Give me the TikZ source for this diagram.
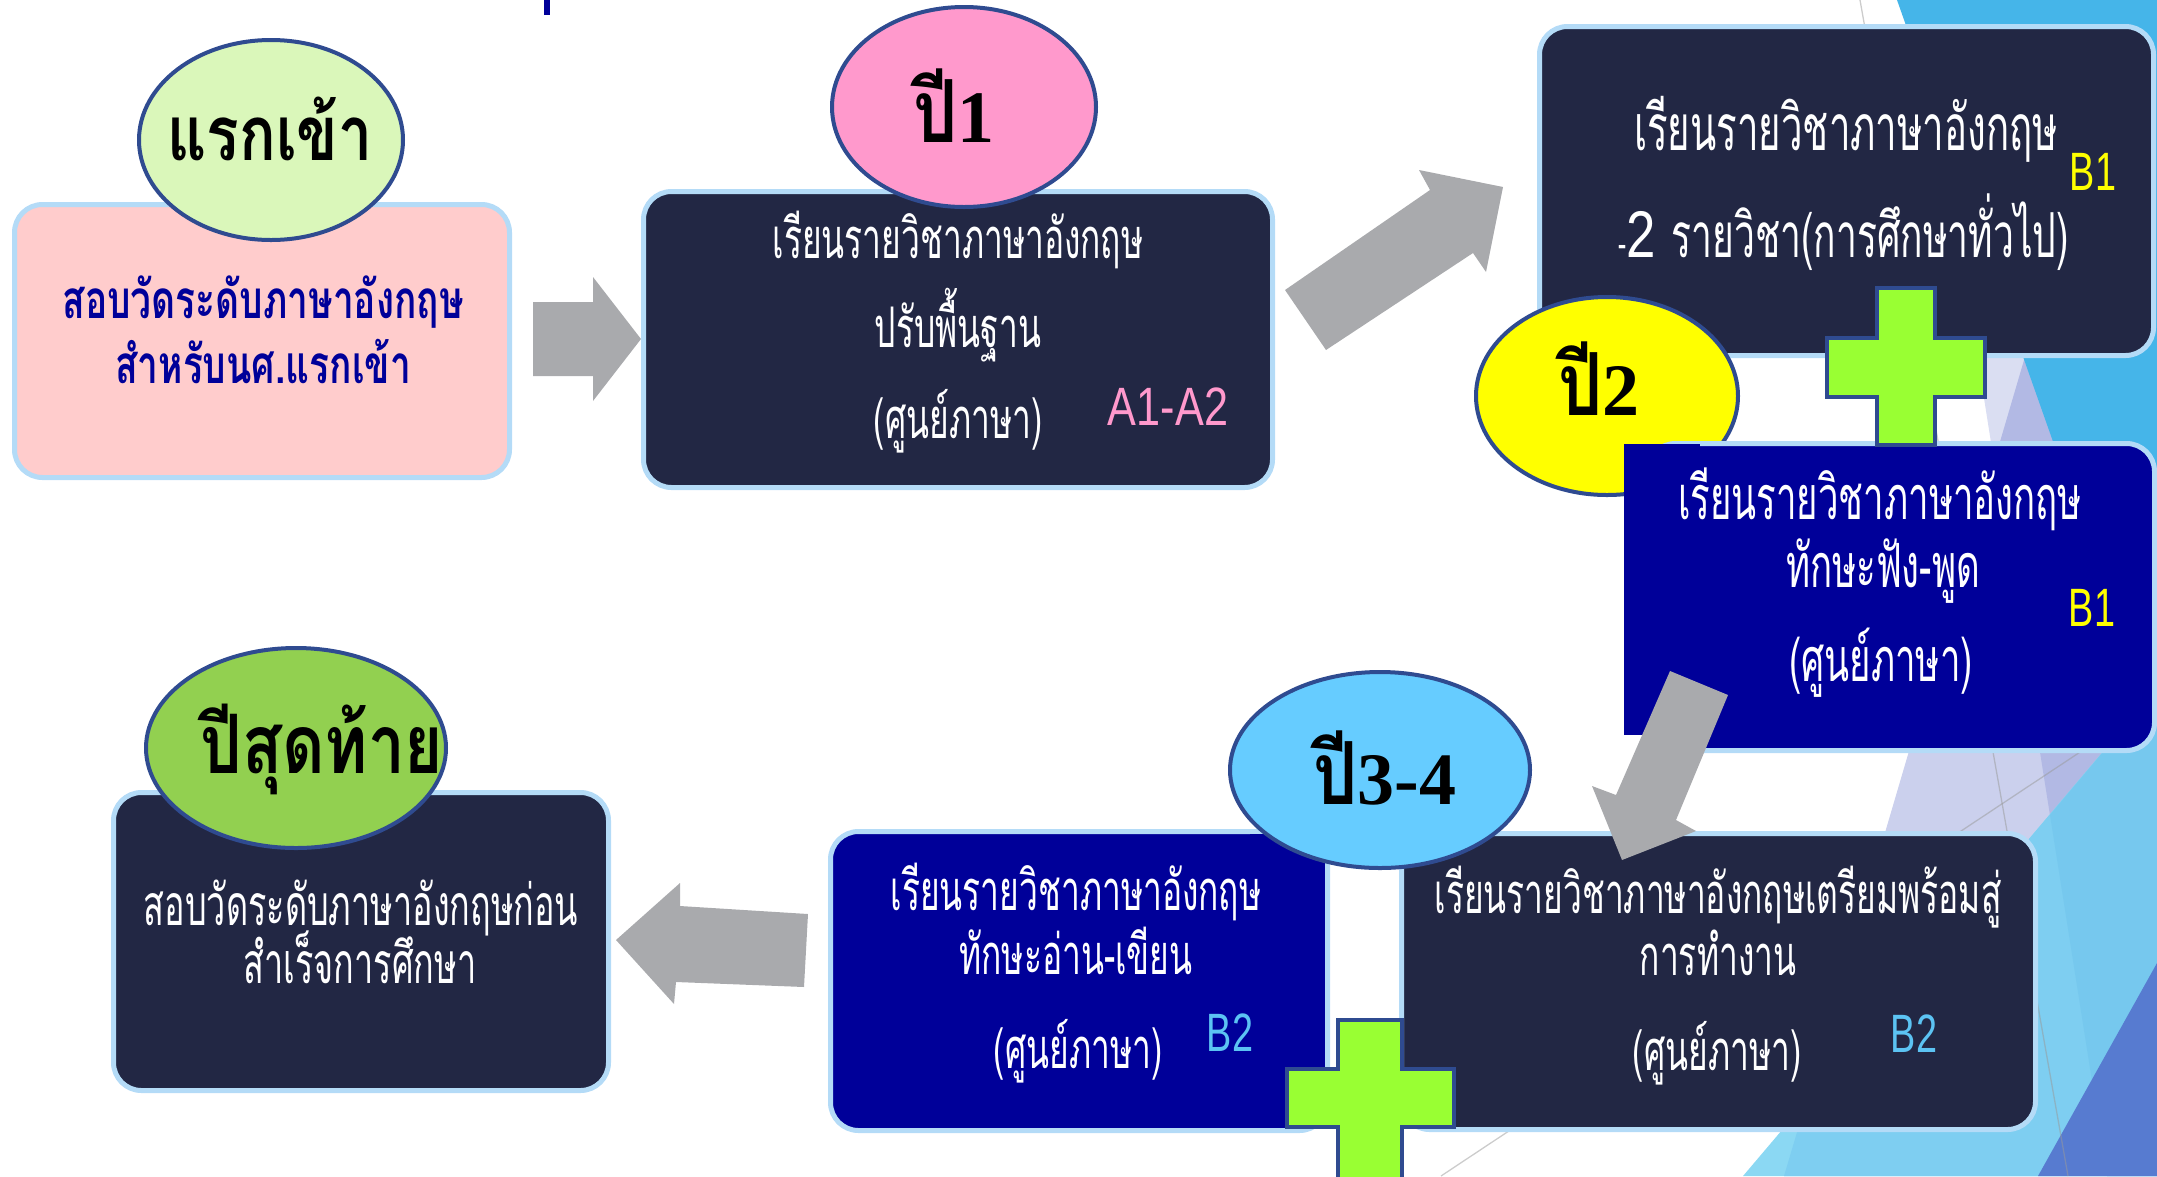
\documentclass[tikz,border=0pt]{standalone}
\usepackage{fontspec}
\usetikzlibrary{shapes.geometric}
\newfontfamily\thr[Script=Thai,FakeStretch=0.6]{Loma}
\newfontfamily\thp[Script=Thai,FakeStretch=0.7]{Loma}
\newfontfamily\thl[Script=Thai,FakeStretch=0.8]{Loma}
\newfontfamily\latf[FakeStretch=0.8]{Liberation Sans}
\newfontfamily\latn[FakeStretch=0.7]{Liberation Sans}
\newfontfamily\digf{Liberation Serif}
\definecolor{cNavy}{HTML}{222744}
\definecolor{cBlue}{HTML}{000099}
\definecolor{cPinkBox}{HTML}{FFCCCC}
\definecolor{cBorder}{HTML}{B4DBF7}
\definecolor{cEllBorder}{HTML}{2F4B90}
\definecolor{cGreenL}{HTML}{DAF7BA}
\definecolor{cPinkE}{HTML}{FF99CC}
\definecolor{cYellow}{HTML}{FFFF00}
\definecolor{cCyan}{HTML}{66CCFF}
\definecolor{cGreen}{HTML}{92D050}
\definecolor{cCross}{HTML}{99FF33}
\definecolor{cArrow}{HTML}{A9AAAD}
\definecolor{cLav}{HTML}{6070C8}
\definecolor{cLBa}{HTML}{45B5E9}
\definecolor{cLBb}{HTML}{8BD8F3}
\definecolor{cLBc}{HTML}{7ECEF1}
\definecolor{cLBd}{HTML}{76C8EE}
\definecolor{cDB}{HTML}{577BD0}
\definecolor{cBtwo}{HTML}{5CC3F3}
\tikzset{
  box/.style={draw=cBorder, line width=5pt, rounded corners=28pt, inner sep=0pt, shape=rectangle},
  ell/.style={ellipse, draw=cEllBorder, line width=4pt, inner sep=0pt},
  arrowshape/.style={fill=cArrow},
  crossshape/.style={fill=cCross, draw=cEllBorder, line width=4pt, line join=miter},
  bgline/.style={draw=black!40, opacity=0.5, line width=1.3pt},
  wline/.style={anchor=base, inner sep=0pt, text=white},
  pline/.style={anchor=base, inner sep=0pt, text=cBlue, font=\thp\bfseries\fontsize{53}{53}\selectfont},
  elab/.style={anchor=base, inner sep=0pt, text=black},
  lvl/.style={anchor=base, inner sep=0pt, font=\latf\fontsize{54}{54}\selectfont},
  lvb/.style={anchor=base, inner sep=0pt, font=\latn\fontsize{54}{54}\selectfont},
}
\begin{document}
\begin{tikzpicture}[x=1pt,y=-1pt]
\useasboundingbox (0,0) rectangle (2157,1176);
\clip (0,0) rectangle (2157,1176);
% background facets
\fill[cLav, opacity=0.23] (1921,0) -- (2157,0) -- (2157,1176) -- (2107,1176) -- cycle;
\fill[cLav, opacity=0.33] (2024,360) -- (2157,360) -- (2157,1176) -- (1784,1176) -- cycle;
\fill[cLBa] (1897,0) -- (2157,0) -- (2157,736) -- cycle;
\fill[cLBb] (2157,688) -- (2157,1176) -- (1743,1176) -- cycle;
\fill[cLBc] (1806,1102) -- (2157,688) -- (2157,1176) -- (1784,1176) -- cycle;
\fill[cLBd] (2050,815) -- (2157,688) -- (2157,1176) -- (2107,1176) -- cycle;
\fill[cDB] (2157,963) -- (2157,1176) -- (2038,1176) -- cycle;
\coordinate (lva) at (1860,0); \coordinate (lvb) at (2068,1176);
\coordinate (lda) at (1441,1176); \coordinate (ldb) at (2157,701);
\draw[bgline] (lva) -- (lvb);
\draw[bgline] (lda) -- (ldb);
\fill[cBlue] (544,0) rectangle (550,15);

% stage 0
\node[box, fill=cPinkBox, minimum width=495pt, minimum height=273pt] (pinkbox) at (262,341) {};
\node[ell, fill=cGreenL, minimum width=264pt, minimum height=200pt] (e1) at (271,140) {};
\fill[arrowshape] (533,302) -- (593,302) -- (593,277) -- (641,339) -- (593,401) -- (593,376) -- (533,376) -- cycle;
% stage 1
\node[box, fill=cNavy, minimum width=629pt, minimum height=296pt] (box1) at (958,339.5) {};
\node[ell, fill=cPinkE, minimum width=264pt, minimum height=200pt] (e2) at (964,107) {};
\fill[arrowshape] (1285,290) -- (1430,190) -- (1419,170) -- (1503,187) -- (1486,272) -- (1473,253) -- (1326,350) -- cycle;
% stage 2
\node[box, fill=cNavy, minimum width=614pt, minimum height=329pt] (box2) at (1846.5,191) {};
\node[ell, fill=cYellow, minimum width=262pt, minimum height=198pt] (e3) at (1607,396) {};
\node[box, fill=cBlue, minimum width=507pt, minimum height=307pt] (blue2) at (1901,597) {};
\fill[cBlue] (1624,443.5) rectangle (1700,735);
\draw[crossshape] (1877,288) -- (1935,288) -- (1935,338) -- (1985,338) -- (1985,397) -- (1935,397) -- (1935,445) -- (1877,445) -- (1877,397) -- (1827,397) -- (1827,338) -- (1877,338) -- cycle;
% stage 3
\node[box, fill=cNavy, minimum width=634pt, minimum height=296pt] (box3) at (1718.5,981.5) {};
\node[box, fill=cBlue, minimum width=497pt, minimum height=299pt] (blue3) at (1079,981) {};
\fill[cBlue] (1250,834) rectangle (1325,1128);
\node[ell, fill=cCyan, minimum width=300pt, minimum height=196pt] (e4) at (1380,770) {};
\fill[arrowshape] (1670,671) -- (1728,695) -- (1676,820) -- (1696,831) -- (1622,860) -- (1592,786) -- (1616,795) -- cycle;
\draw[crossshape] (1338,1020) -- (1402,1020) -- (1402,1069) -- (1454,1069) -- (1454,1127) -- (1402,1127) -- (1402,1200) -- (1338,1200) -- (1338,1127) -- (1287,1127) -- (1287,1069) -- (1338,1069) -- cycle;
% stage 4
\node[box, fill=cNavy, minimum width=495pt, minimum height=298pt] (box4) at (361,941.5) {};
\node[ell, fill=cGreen, minimum width=300pt, minimum height=200pt] (e5) at (296,748) {};
\fill[arrowshape] (616,940) -- (680,883) -- (680,906) -- (808,914) -- (804,987) -- (676,982) -- (674,1004) -- cycle;

% texts
\node[pline] (p1) at (263,318) {สอบวัดระดับภาษาอังกฤษ};
\node[pline] (p2) at (263,383) {สำหรับนศ.แรกเข้า};

\node[wline, font=\thr\fontsize{56}{56}\selectfont] (t11) at (958,258) {เรียนรายวิชาภาษาอังกฤษ};
\node[wline, font=\thr\fontsize{56}{56}\selectfont] (t12) at (958,347) {ปรับพื้นฐาน};
\node[wline, font=\thr\fontsize{56}{56}\selectfont] (t13) at (958,438) {(ศูนย์ภาษา)};
\node[lvl, text=cPinkE] (a12) at (1168,425) {A1-A2};

\node[wline, font=\thr\fontsize{64}{64}\selectfont] (t21) at (1846,150) {เรียนรายวิชาภาษาอังกฤษ};
\node[wline, anchor=base west] (t22) at (1618,257) {{\thr\fontsize{40}{40}\selectfont -}{\latf\fontsize{66}{66}\selectfont 2}\hspace{16pt}{\thr\fontsize{62}{62}\selectfont รายวิชา(การศึกษาทั่วไป)}};
\node[lvb, text=cYellow] (b11) at (2093,190) {B1};

\node[wline, font=\thr\fontsize{61}{61}\selectfont] (t31) at (1880,519) {เรียนรายวิชาภาษาอังกฤษ};
\node[wline, font=\thr\fontsize{61}{61}\selectfont] (t32) at (1883,587) {ทักษะฟัง-พูด};
\node[wline, font=\thr\fontsize{61}{61}\selectfont] (t33) at (1881,681) {(ศูนย์ภาษา)};
\node[lvb, text=cYellow] (b12) at (2092,626) {B1};

\node[wline, font=\thr\fontsize{56}{56}\selectfont] (t41) at (1718,913) {เรียนรายวิชาภาษาอังกฤษเตรียมพร้อมสู่};
\node[wline, font=\thr\fontsize{56}{56}\selectfont] (t42) at (1718,975) {การทำงาน};
\node[wline, font=\thr\fontsize{56}{56}\selectfont] (t43) at (1717,1070) {(ศูนย์ภาษา)};
\node[lvb, text=cBtwo] (b21) at (1914,1052) {B2};

\node[wline, font=\thr\fontsize{56}{56}\selectfont] (t51) at (1076,910) {เรียนรายวิชาภาษาอังกฤษ};
\node[wline, font=\thr\fontsize{56}{56}\selectfont] (t52) at (1076,974) {ทักษะอ่าน-เขียน};
\node[wline, font=\thr\fontsize{56}{56}\selectfont] (t53) at (1078,1068) {(ศูนย์ภาษา)};
\node[lvb, text=cBtwo] (b22) at (1230,1051) {B2};

\node[wline, font=\thr\fontsize{57}{57}\selectfont] (t61) at (361,925) {สอบวัดระดับภาษาอังกฤษก่อน};
\node[wline, font=\thr\fontsize{57}{57}\selectfont] (t62) at (360,983) {สำเร็จการศึกษา};

\node[elab, font=\thl\bfseries\fontsize{76}{76}\selectfont] (l1) at (270,160) {แรกเข้า};
\node[elab] (l2) at (954,142) {{\thl\bfseries\fontsize{87}{87}\selectfont ปี}{\digf\bfseries\fontsize{74}{74}\selectfont 1}};
\node[elab] (l3) at (1599,415) {{\thl\bfseries\fontsize{87}{87}\selectfont ปี}{\digf\bfseries\fontsize{74}{74}\selectfont 2}};
\node[elab] (l4) at (1385,804) {{\thl\bfseries\fontsize{87}{87}\selectfont ปี}{\digf\bfseries\fontsize{74}{74}\selectfont 3-4}};
\node[elab, font=\thl\bfseries\fontsize{82}{82}\selectfont] (l5) at (322,773) {ปีสุดท้าย};
\end{tikzpicture}
\end{document}
